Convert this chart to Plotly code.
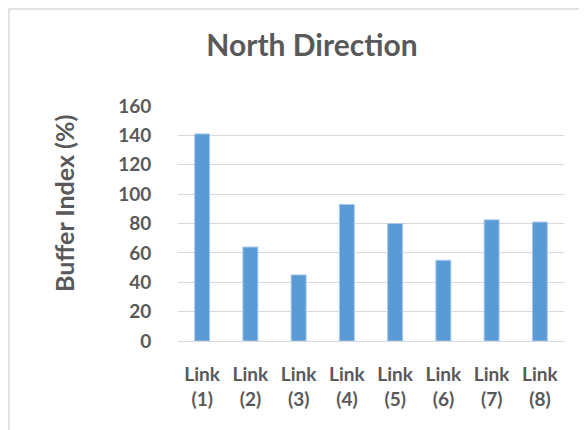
import plotly.graph_objects as go

categories = ["Link<br>(1)", "Link<br>(2)", "Link<br>(3)", "Link<br>(4)",
              "Link<br>(5)", "Link<br>(6)", "Link<br>(7)", "Link<br>(8)"]
values = [141, 64, 45, 93, 80, 55, 82.5, 81]
tick_vals = [0, 20, 40, 60, 80, 100, 120, 140, 160]

FONT = "Lato"
TXT = "#595959"

OFF = 8  # page body margin
W, H = 587 - OFF, 430 - OFF
L, T = 178 - OFF, 106 - OFF
pw, ph = 386, 235
R = W - L - pw
B = H - T - ph

def px_x(x):
    return (x - OFF - L) / pw

def px_y(y):
    return (T + ph - (y - OFF)) / ph

fig = go.Figure()
fig.add_trace(go.Bar(
    x=categories, y=values,
    marker=dict(color="#5b9bd5", line=dict(color="#a9c8ec", width=1)),
    width=0.31,
))

fig.update_layout(
    width=W, height=H,
    margin=dict(l=L, r=R, t=T, b=B),
    paper_bgcolor="white", plot_bgcolor="white",
    showlegend=False,
    font=dict(family=FONT, color=TXT),
    title=dict(text="North Direction", font=dict(size=30, color=TXT, family=FONT, weight="bold"),
               x=px_x(312), xref="paper", xanchor="center",
               y=1 - (45 - OFF) / H, yref="container", yanchor="middle"),
    xaxis=dict(showgrid=False, showline=False, zeroline=False,
               tickfont=dict(size=19, color=TXT, family=FONT, weight="bold"),
               ticks="outside", ticklen=16, tickcolor="rgba(0,0,0,0)"),
    yaxis=dict(range=[0, 160], tickvals=tick_vals, showgrid=True,
               gridcolor="#d9d9d9", gridwidth=1, zeroline=True,
               zerolinecolor="#d9d9d9", zerolinewidth=1, showline=False,
               tickfont=dict(size=19, color=TXT, family=FONT, weight="bold"),
               ticks="outside", ticklen=22, tickcolor="rgba(0,0,0,0)"),
    annotations=[dict(text="Buffer Index (%)", textangle=-90,
                      xref="paper", yref="paper",
                      x=px_x(64), y=px_y(204),
                      xanchor="center", yanchor="middle", showarrow=False,
                      font=dict(size=25, color=TXT, family=FONT, weight="bold"))],
    shapes=[dict(type="rect", xref="paper", yref="paper",
                 x0=px_x(OFF + 1), x1=px_x(620),
                 y0=px_y(460), y1=px_y(OFF + 1),
                 line=dict(color="#d9d9d9", width=1.5), fillcolor="rgba(0,0,0,0)",
                 layer="below")],
)

fig.write_html("out.html")
